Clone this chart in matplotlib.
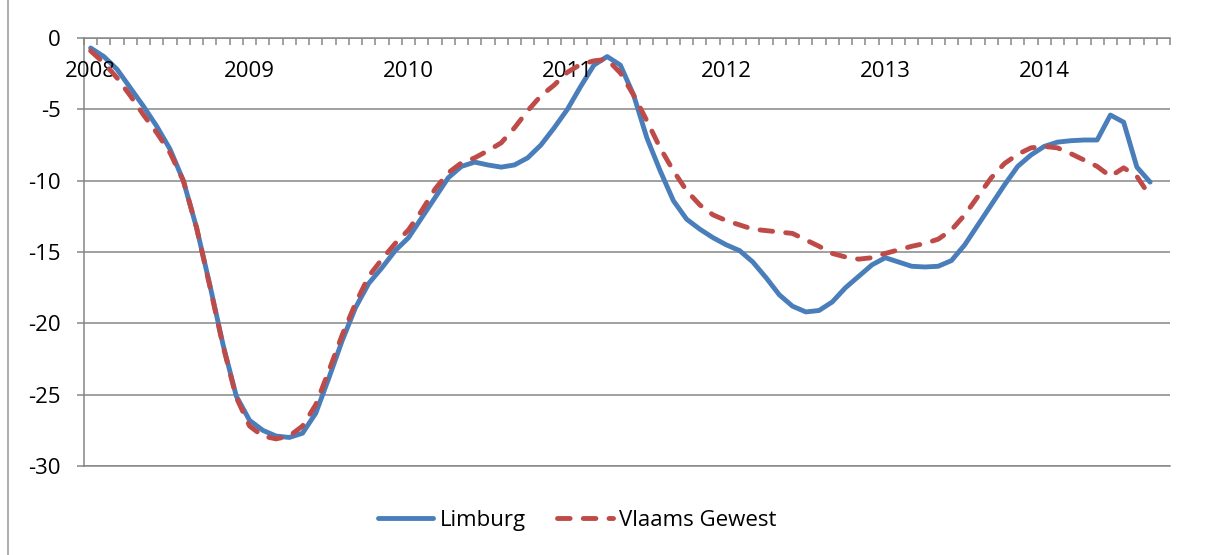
import numpy as np
import matplotlib
matplotlib.use("Agg")
import matplotlib.pyplot as plt
from matplotlib.patches import Rectangle

# maandelijkse waarden jan 2008 - sep 2014
limburg = [-0.7, -1.3, -2.2, -3.5, -4.8, -6.2, -7.8, -10.0, -13.3, -17.3, -21.5, -25.1,
           -26.8, -27.5, -27.9, -28.0, -27.7, -26.3, -23.8, -21.2, -18.9, -17.2, -16.1, -14.9,
           -14.0, -12.6, -11.2, -9.8, -9.0, -8.7, -8.9, -9.05, -8.9, -8.4, -7.5, -6.3,
           -5.0, -3.4, -1.9, -1.3, -1.9, -4.0, -7.0, -9.3, -11.4, -12.7, -13.4, -14.0,
           -14.5, -14.9, -15.7, -16.8, -18.0, -18.8, -19.2, -19.1, -18.5, -17.5, -16.7, -15.9,
           -15.4, -15.7, -16.0, -16.05, -16.0, -15.6, -14.5, -13.1, -11.7, -10.3, -9.0, -8.2,
           -7.6, -7.3, -7.2, -7.15, -7.15, -5.4, -5.9, -9.05, -10.1]
vlaams = [-0.9, -1.75, -2.8, -4.05, -5.4, -6.65, -8.05, -10.0, -13.3, -17.4, -21.6, -25.2,
          -27.2, -27.9, -28.1, -27.9, -27.2, -25.7, -23.3, -20.8, -18.6, -16.7, -15.5, -14.4,
          -13.45, -12.1, -10.6, -9.45, -8.75, -8.4, -7.9, -7.35, -6.3, -5.1, -4.05, -3.3,
          -2.4, -1.85, -1.6, -1.5, -2.45, -4.0, -5.8, -7.7, -9.3, -10.7, -11.7, -12.4,
          -12.8, -13.1, -13.4, -13.5, -13.6, -13.7, -14.15, -14.6, -15.1, -15.35, -15.5, -15.4,
          -15.1, -14.85, -14.6, -14.4, -14.1, -13.45, -12.4, -11.1, -9.8, -8.8, -8.15, -7.7,
          -7.6, -7.7, -8.1, -8.55, -9.0, -9.7, -9.1, -9.7, -11.1]
years = ["2008", "2009", "2010", "2011", "2012", "2013", "2014"]
n_cat = 82  # categorie-as loopt tot okt 2014

blauw = "#4A7EBB"
rood = "#BE4B48"
grijs = "#868686"

plt.rcParams["font.family"] = ["Open Sans", "DejaVu Sans"]
plt.rcParams["axes.unicode_minus"] = False

fig = plt.figure(figsize=(12.18, 5.55), dpi=100)
ax = fig.add_axes([84 / 1218, (555 - 466) / 555, (1170 - 84) / 1218, (466 - 38) / 555])

# kaderlijn van de grafiek
fig.patches.append(Rectangle((8 / 1218, -0.05), 1.2, 1.2, transform=fig.transFigure,
                             fill=False, edgecolor="#A0A0A0", linewidth=1.2))

x = np.arange(len(limburg))
ax.plot(x, limburg, color=blauw, linewidth=3.5, solid_joinstyle="round",
        solid_capstyle="round", label="Limburg", zorder=3)
ax.plot(x, vlaams, color=rood, linewidth=3.5, dashes=(2.6, 2.7),
        dash_capstyle="round", label="Vlaams Gewest", zorder=4)

ax.set_xlim(-0.5, n_cat - 0.5)
ax.set_ylim(-30, 0)
ax.set_yticks(np.arange(-30, 1, 5))
ax.yaxis.grid(True, color=grijs, linewidth=1.1)
ax.set_axisbelow(True)

ax.spines["right"].set_visible(False)
for s in ["left", "top", "bottom"]:
    ax.spines[s].set_color(grijs)
    ax.spines[s].set_linewidth(1.1)

ax.tick_params(axis="y", direction="out", length=5, width=1.1, color=grijs,
               labelsize=16, pad=12)

# x-as bovenaan (bij 0) met maandstreepjes
ax.xaxis.set_ticks_position("top")
ax.set_xticks(np.arange(-0.5, n_cat, 1))
ax.set_xticklabels([])
ax.tick_params(axis="x", direction="in", length=5, width=1.1, color=grijs)

for k, yr in enumerate(years):
    ax.text(k * 12, 0.9206, yr, transform=ax.get_xaxis_transform(),
            ha="center", va="center", fontsize=16)

fig.legend(loc="center", bbox_to_anchor=(0.474, 0.063), ncol=2, frameon=False,
           fontsize=16, handlelength=2.5, columnspacing=1.4, handletextpad=0.3)

fig.savefig("out.png", dpi=100)
